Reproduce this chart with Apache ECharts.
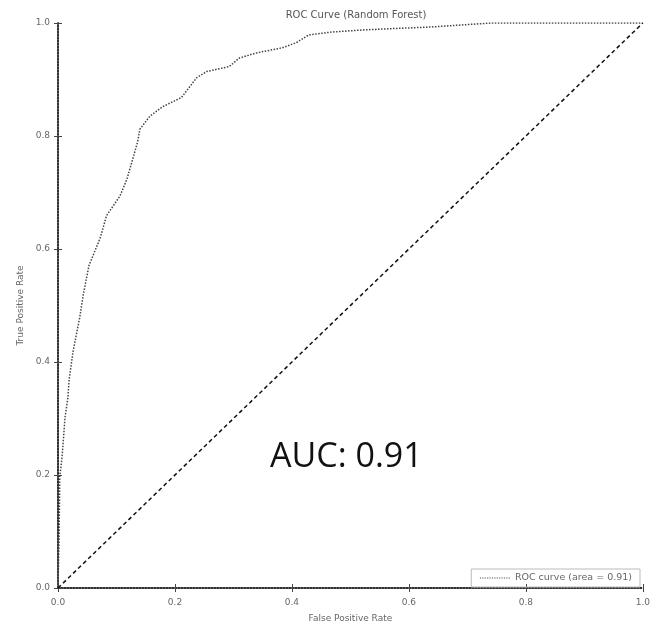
<!DOCTYPE html>
<html>
<head>
<meta charset="utf-8">
<script src="https://cdn.jsdelivr.net/npm/echarts@6/dist/echarts.min.js"></script>
<style>
  html, body { margin: 0; padding: 0; background: #fff; }
  #rocChart { width: 653px; height: 628px; }
</style>
</head>
<body>
<div id="rocChart"></div>
<script>
// ROC 曲线数据
var fpr = [0, 0.002, 0.003, 0.005, 0.007, 0.012, 0.017, 0.019, 0.026, 0.037, 0.043, 0.053, 0.072, 0.083, 0.106, 0.118, 0.136, 0.140, 0.157, 0.179, 0.211, 0.237, 0.254, 0.293, 0.310, 0.339, 0.383, 0.407, 0.429, 0.468, 0.526, 0.639, 0.741, 1.0];
var tpr = [0, 0.10, 0.197, 0.214, 0.232, 0.302, 0.337, 0.369, 0.42, 0.478, 0.518, 0.571, 0.619, 0.659, 0.694, 0.724, 0.789, 0.812, 0.835, 0.852, 0.868, 0.903, 0.914, 0.923, 0.938, 0.947, 0.956, 0.965, 0.979, 0.984, 0.988, 0.993, 1.0, 1.0];
var diagX = [0, 1];
var diagY = [0, 1];
var tickLabels = ['0.0', '0.2', '0.4', '0.6', '0.8', '1.0'];
var aucText = 'AUC: 0.91';
var legendName = 'ROC curve (area = 0.91)';

var rocData = fpr.map(function (v, i) { return [v, tpr[i]] });
var diagData = diagX.map(function (v, i) { return [v, diagY[i]] });

var axisLineStyle = { color: '#222', width: 1.5, type: 'dotted' };
var labelStyle = { color: '#666', fontSize: 9, fontFamily: 'DejaVu Sans' };

function tickFmt (v) {
  return tickLabels[Math.round(v / 0.2)] || v.toFixed(1);
}

var rocChart = echarts.init(document.getElementById('rocChart'));
var optionData = {
  animation: false,
  title: {
    text: 'ROC Curve (Random Forest)',
    left: 351,
    textAlign: 'center',
    top: 5,
    textStyle: { color: '#555', fontSize: 10, fontWeight: 'normal', fontFamily: 'DejaVu Sans' }
  },
  grid: { left: 58, right: 8, top: 23, bottom: 36 },
  legend: {
    data: [legendName],
    right: 13,
    bottom: 41,
    orient: 'vertical',
    itemWidth: 30,
    itemHeight: 8,
    itemGap: 6,
    padding: [4, 8],
    borderColor: '#bbb',
    borderWidth: 1,
    itemStyle: { opacity: 0 },
    lineStyle: { color: '#555', width: 1.2, type: 'dotted' },
    textStyle: { color: '#666', fontSize: 9.5, fontFamily: 'DejaVu Sans' }
  },
  xAxis: [
    {
      type: 'value', min: 0, max: 1, interval: 0.2,
      name: 'False Positive Rate', nameLocation: 'middle', nameGap: 26,
      nameTextStyle: { color: '#666', fontSize: 9, fontFamily: 'DejaVu Sans' },
      axisLine: { show: true, lineStyle: axisLineStyle },
      axisTick: { show: true, inside: true, length: 4, lineStyle: { color: '#444' } },
      axisLabel: Object.assign({ formatter: tickFmt, margin: 10 }, labelStyle),
      splitLine: { show: false }
    },
    {
      type: 'value', min: 0, max: 1, interval: 0.2, position: 'top',
      axisLine: { show: true, lineStyle: axisLineStyle },
      axisTick: { show: true, inside: true, length: 4, lineStyle: { color: '#444' } },
      axisLabel: { show: false },
      splitLine: { show: false }
    }
  ],
  yAxis: [
    {
      type: 'value', min: 0, max: 1, interval: 0.2,
      name: 'True Positive Rate', nameLocation: 'middle', nameGap: 33,
      nameTextStyle: { color: '#666', fontSize: 9, fontFamily: 'DejaVu Sans' },
      axisLine: { show: true, lineStyle: axisLineStyle },
      axisTick: { show: true, inside: true, length: 4, lineStyle: { color: '#444' } },
      axisLabel: Object.assign({ formatter: tickFmt, margin: 8 }, labelStyle),
      splitLine: { show: false }
    },
    {
      type: 'value', min: 0, max: 1, interval: 0.2, position: 'right',
      axisLine: { show: true, lineStyle: axisLineStyle },
      axisTick: { show: true, inside: true, length: 4, lineStyle: { color: '#444' } },
      axisLabel: { show: false },
      splitLine: { show: false }
    }
  ],
  graphic: [
    {
      type: 'text',
      left: 270,
      top: 440,
      style: { text: aucText, fill: '#111', fontSize: 34, fontFamily: 'Open Sans' }
    }
  ],
  series: [
    {
      name: legendName,
      type: 'line',
      data: rocData,
      symbol: 'none',
      lineStyle: { color: '#444', width: 1.5, type: 'dotted' },
      itemStyle: { color: '#444' }
    },
    {
      name: 'diag',
      type: 'line',
      data: diagData,
      symbol: 'none',
      lineStyle: { color: '#111', width: 1.5, type: [4, 3] },
      itemStyle: { color: '#111' }
    }
  ]
};
rocChart.setOption(optionData);
</script>
</body>
</html>
